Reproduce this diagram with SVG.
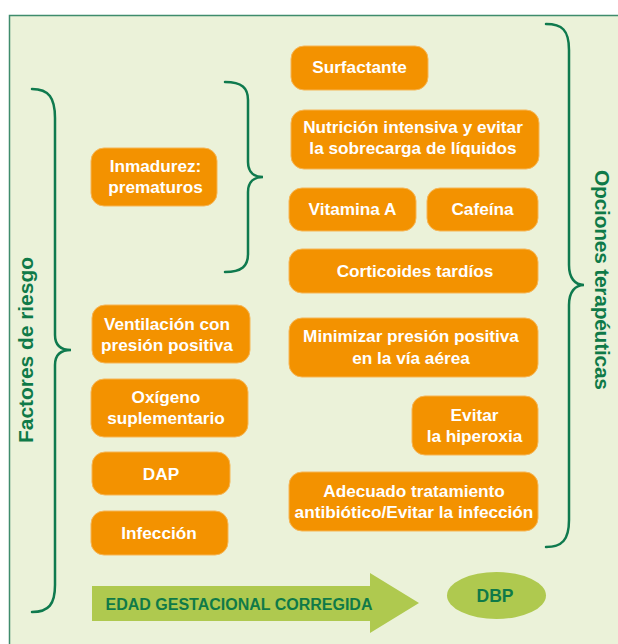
<svg xmlns="http://www.w3.org/2000/svg" width="618" height="644" viewBox="0 0 618 644">
<defs>
<style>
.bg{fill:#ebf2d9;stroke:#3f8c6c;stroke-width:1.5}
.box{fill:#f39200;stroke:#f6b555;stroke-width:1}
.bt{font-family:"Liberation Sans",Arial,sans-serif;font-weight:bold;font-size:17.2px;fill:#ffffff;text-anchor:middle}
.gt{font-family:"Liberation Sans",Arial,sans-serif;font-weight:bold;fill:#0f7a48;text-anchor:middle}
.brace{fill:none;stroke:#0f7a4e;stroke-width:2.5;stroke-linecap:round}
.lg{fill:#afc94f}
</style>
</defs>
<rect class="bg" x="9.5" y="15.5" width="620" height="640"/>

<g id="connectors">
<path class="brace" d="M32,89 C49,89 55,98 55,118 L55,335 C55,345 61,350 71,350 C61,350 55,355 55,365 L55,585 C55,604 49,612 32,612"/>
<path class="brace" d="M225,82 C242,82 248,88 248,100 L248,162 C248,172 254,177 263,177 C254,177 248,182 248,192 L248,254 C248,266 242,272 225,272"/>
<path class="brace" d="M546,24 C562,24 569,30 569,50 L569,265 C569,278 575,285 584,285 C575,285 569,292 569,305 L569,520 C569,540 562,547 546,547"/>
</g>

<g id="label-factores">
<text class="gt" font-size="21" transform="translate(33,350) rotate(-90)" textLength="186" lengthAdjust="spacing">Factores de riesgo</text>
</g>
<g id="label-opciones">
<text class="gt" font-size="21" transform="translate(595,280) rotate(90)" textLength="220" lengthAdjust="spacing">Opciones terapéuticas</text>
</g>

<g id="surfactante">
<rect class="box" x="291" y="46" width="137" height="44" rx="13"/>
<text class="bt" x="359.5" y="73">Surfactante</text>
</g>
<g id="nutricion">
<rect class="box" x="291" y="110" width="248" height="59" rx="13"/>
<text class="bt" x="413" y="132.5">Nutrición intensiva y evitar</text>
<text class="bt" x="413" y="154">la sobrecarga de líquidos</text>
</g>
<g id="vitamina-a">
<rect class="box" x="289" y="188" width="127" height="43" rx="13"/>
<text class="bt" x="352.5" y="215">Vitamina A</text>
</g>
<g id="cafeina">
<rect class="box" x="427" y="188" width="111" height="43" rx="13"/>
<text class="bt" x="482.5" y="215">Cafeína</text>
</g>
<g id="corticoides">
<rect class="box" x="289" y="249" width="249" height="44" rx="13"/>
<text class="bt" x="415" y="277">Corticoides tardíos</text>
</g>
<g id="minimizar">
<rect class="box" x="289" y="318" width="249" height="59" rx="13"/>
<text class="bt" x="411" y="342">Minimizar presión positiva</text>
<text class="bt" x="411" y="363.5">en la vía aérea</text>
</g>
<g id="hiperoxia">
<rect class="box" x="412" y="396" width="126" height="59" rx="13"/>
<text class="bt" x="474.5" y="420.5">Evitar</text>
<text class="bt" x="474.5" y="442">la hiperoxia</text>
</g>
<g id="antibiotico">
<rect class="box" x="289" y="472" width="249" height="59" rx="13"/>
<text class="bt" x="414" y="496.5">Adecuado tratamiento</text>
<text class="bt" x="414" y="518">antibiótico/Evitar la infección</text>
</g>

<g id="inmadurez">
<rect class="box" x="91" y="148" width="126" height="58" rx="13"/>
<text class="bt" x="155.5" y="171.5">Inmadurez:</text>
<text class="bt" x="155.5" y="193">prematuros</text>
</g>
<g id="ventilacion">
<rect class="box" x="92" y="305" width="158" height="58" rx="13"/>
<text class="bt" x="167" y="330">Ventilación con</text>
<text class="bt" x="167" y="351">presión positiva</text>
</g>
<g id="oxigeno">
<rect class="box" x="91" y="379" width="157" height="58" rx="13"/>
<text class="bt" x="166" y="403">Oxígeno</text>
<text class="bt" x="166" y="424">suplementario</text>
</g>
<g id="dap">
<rect class="box" x="92" y="452" width="138" height="43" rx="13"/>
<text class="bt" x="161" y="480">DAP</text>
</g>
<g id="infeccion">
<rect class="box" x="91" y="511" width="137" height="44" rx="13"/>
<text class="bt" x="159" y="539">Infección</text>
</g>

<g id="edad-arrow">
<polygon class="lg" points="92,586 370,586 370,573 419,603 370,633 370,621 92,621"/>
<text class="gt" font-size="16" x="239" y="610">EDAD GESTACIONAL CORREGIDA</text>
</g>
<g id="dbp">
<ellipse class="lg" cx="496.5" cy="595.5" rx="49.5" ry="23.5"/>
<text class="gt" font-size="17.5" x="495" y="602">DBP</text>
</g>
</svg>
